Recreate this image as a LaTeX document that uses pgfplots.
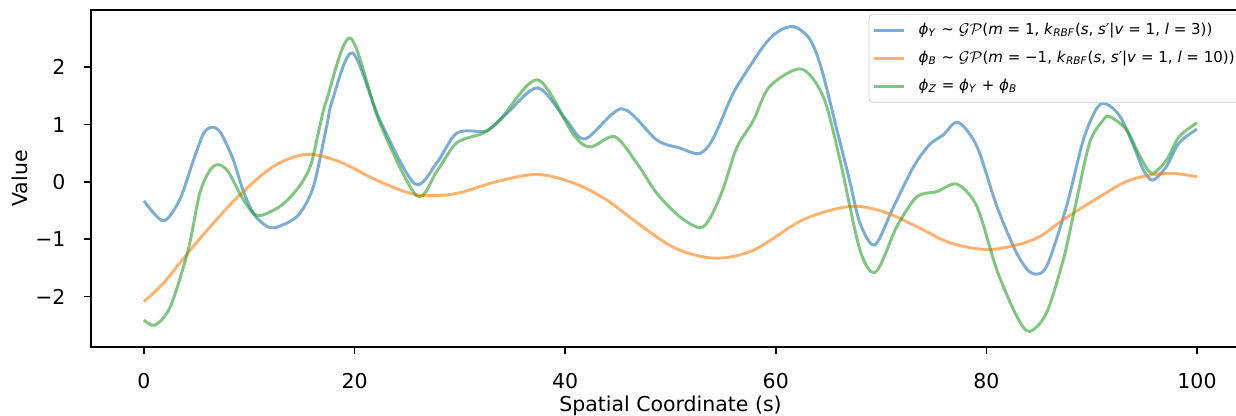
\documentclass[border=0pt]{standalone}
\usepackage{fontspec}
\setmainfont{DejaVu Sans}
\usepackage{pgfplots}
\pgfplotsset{compat=1.18}
\definecolor{tabblue}{HTML}{1F77B4}
\definecolor{taborange}{HTML}{FF7F0E}
\definecolor{tabgreen}{HTML}{2CA02C}
\begin{document}
\begin{tikzpicture}
\begin{axis}[
  name=ax,
  scale only axis,
  width=594pt, height=172.8pt,
  xmin=-5, xmax=105, ymin=-2.88, ymax=3.0,
  xtick={0,20,40,60,80,100},
  xticklabels={0,20,40,60,80,100},
  ytick={-2,-1,0,1,2},
  yticklabels={−2,−1,0,1,2},
  xtick pos=bottom, ytick pos=left,
  tick align=outside,
  major tick length=3.5pt,
  tick style={black, line width=0.8pt},
  axis line style={line width=0.9pt},
  xticklabel style={anchor=base, inner sep=0pt, yshift=-18pt, font=\fontsize{10.5}{12}\selectfont},
  yticklabel style={anchor=east, inner sep=0pt, xshift=-9.5pt, font=\fontsize{10.5}{12}\selectfont},
  every axis x label/.style={at={(axis description cs:0.5,0)}, anchor=base, yshift=-33pt, font=\fontsize{10.5}{12}\selectfont},
  every axis y label/.style={at={(axis description cs:-0.0613,0.5)}, rotate=90, anchor=center, font=\fontsize{10.5}{12}\selectfont},
  xlabel={Spatial Coordinate (s)},
  ylabel={Value},
  legend cell align=left,
  legend style={at={(1,1)}, anchor=north east, xshift=-3.5pt, yshift=-2pt,
    draw=black!20, rounded corners=2pt, fill=white, fill opacity=0.8, text opacity=1,
    font=\fontsize{7.7}{9}\selectfont, inner xsep=2pt, inner ysep=2.5pt, row sep=3pt,
    /tikz/every odd column/.append style={column sep=5pt}},
  legend image code/.code={\draw[#1] (0pt,0pt) -- (15pt,0pt);},
  every axis plot/.append style={line width=1.5pt, draw opacity=0.6},
]
\addplot[tabblue, smooth, tension=0.5] coordinates {
(0,-0.33) (1.84,-0.68) (3.4,-0.31) (4.7,0.38) (5.6,0.82) (6.1,0.93) (6.6,0.955) (7.1,0.9) (7.5,0.79)
(8.5,0.38) (9.4,-0.14) (10.5,-0.58) (12.0,-0.80) (13.55,-0.72) (14.8,-0.55)
(16.1,-0.08) (17.35,0.97) (17.9,1.43) (19.8,2.25) (22.4,1.08) (25.7,-0.03)
(27.8,0.33) (29.7,0.85) (32.2,0.88) (32.9,0.93) (34.5,1.2) (37.4,1.64) (40.1,1.08)
(41.9,0.75) (45.4,1.275) (48.7,0.73) (50.9,0.59) (52.6,0.49) (53.6,0.62) (54.5,0.93)
(55.4,1.32) (56.3,1.66) (58.8,2.36) (60.2,2.62) (61.7,2.71) (63.2,2.5) (64.3,2.0) (65.8,0.91) (67.0,0.03)
(68.0,-0.72) (69.4,-1.10) (71.2,-0.43) (73.1,0.27) (74.6,0.65) (75.9,0.82)
(77.3,1.04) (79.1,0.62) (81.0,-0.43) (82.9,-1.25) (84.3,-1.59) (85.7,-1.48)
(87.6,-0.43) (89.2,0.73) (90.5,1.29) (91.4,1.36) (92.7,1.14) (94.0,0.62)
(94.9,0.21) (95.8,0.03) (97.1,0.27) (98.3,0.68) (100,0.92)
};
\addlegendentry{\textit{ϕ}\textsubscript{\textit{Y}} ∼ $\mathcal{GP}$(\textit{m} = 1, \textit{k}\textsubscript{\textit{RBF}}(\textit{s}, \textit{s}′|\textit{v} = 1, \textit{l} = 3))}
\addplot[taborange, smooth, tension=0.55] coordinates {
(0,-2.09) (1.84,-1.77) (4.4,-1.19) (6.6,-0.72) (9.1,-0.23) (12.3,0.27)
(15.45,0.48) (18.6,0.35) (22.1,0.03) (25.3,-0.20) (27.5,-0.24)
(30.0,-0.19) (33.4,0.0) (37.3,0.13) (40.8,-0.02) (43.9,-0.31) (47.1,-0.75)
(50.5,-1.16) (54.2,-1.33) (57.9,-1.19) (62.6,-0.66) (67.0,-0.43) (70.2,-0.52)
(73.4,-0.78) (76.5,-1.06) (80.0,-1.18) (82.9,-1.10) (85.1,-0.95) (87.3,-0.66)
(90.5,-0.29) (93.6,0.03) (97.1,0.15) (100,0.09)
};
\addlegendentry{\textit{ϕ}\textsubscript{\textit{B}} ∼ $\mathcal{GP}$(\textit{m} =  −1, \textit{k}\textsubscript{\textit{RBF}}(\textit{s}, \textit{s}′|\textit{v} = 1, \textit{l} = 10))}
\addplot[tabgreen, smooth, tension=0.5] coordinates {
(0,-2.41) (1.05,-2.50) (2.5,-2.18) (4.2,-1.19) (5.3,-0.20) (6.3,0.21) (7.1,0.30)
(8.0,0.18) (9.1,-0.20) (10.1,-0.49) (11.0,-0.59) (12.9,-0.43) (14.5,-0.14)
(15.8,0.27) (16.7,0.97) (17.35,1.43) (19.6,2.51)
(22.4,1.03) (25.9,-0.24) (27.8,0.18) (29.7,0.68) (32.2,0.85) (33.8,1.08)
(37.4,1.78) (40.8,0.82) (42.4,0.61) (44.7,0.79) (46.8,0.33) (48.7,-0.20)
(50.9,-0.61) (52.8,-0.80) (53.8,-0.62) (55.0,-0.12) (56.3,0.60) (57.9,1.08) (59.4,1.66) (62.4,1.97)
(64.5,1.49) (66.1,0.38) (68.0,-1.19) (69.5,-1.57) (71.5,-0.78) (73.4,-0.26)
(75.3,-0.17) (77.2,-0.04) (79.1,-0.43) (81.0,-1.54) (82.9,-2.35) (84.1,-2.61)
(85.7,-2.29) (87.3,-1.36) (88.4,-0.46) (89.8,0.68) (91.1,1.08) (91.7,1.14) (93.3,0.91)
(94.6,0.44) (95.7,0.15) (97.1,0.38) (98.3,0.79) (100,1.03)
};
\addlegendentry{\textit{ϕ}\textsubscript{\textit{Z}} = \textit{ϕ}\textsubscript{\textit{Y}} + \textit{ϕ}\textsubscript{\textit{B}}}
\end{axis}
\pgfresetboundingbox
\path[use as bounding box] ([shift={(-46.8pt,-35.4pt)}]ax.south west) rectangle ([shift={(-7pt,5.1pt)}]ax.north east);
\end{tikzpicture}
\end{document}
